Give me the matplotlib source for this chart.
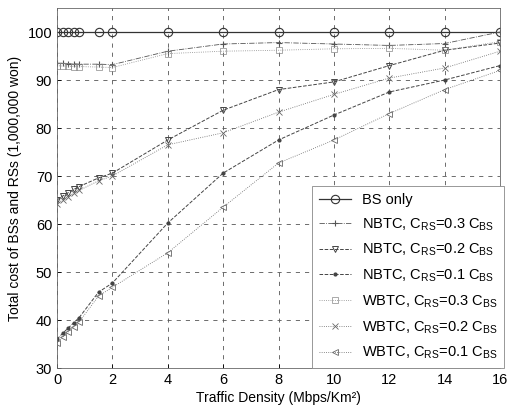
import matplotlib
matplotlib.use("Agg")
import matplotlib.pyplot as plt

plt.rcParams['font.family'] = ['Liberation Sans', 'DejaVu Sans']

x = [0, 0.2, 0.4, 0.6, 0.8, 1.5, 2, 4, 6, 8, 10, 12, 14, 16]

bs_only   = [100] * len(x)
nbtc_03   = [93.5, 93.5, 93.4, 93.4, 93.3, 93.3, 93.2, 96.0, 97.5, 97.8, 97.5, 97.2, 97.6, 100]
nbtc_02   = [65.0, 65.8, 66.5, 67.2, 67.8, 69.6, 70.6, 77.5, 83.7, 88.0, 89.6, 93.0, 96.2, 97.7]
nbtc_01   = [36.0, 37.2, 38.3, 39.4, 40.5, 45.8, 47.7, 60.2, 70.6, 77.5, 82.7, 87.5, 90.0, 93.0]
wbtc_03   = [93.0, 92.9, 92.9, 92.8, 92.8, 92.7, 92.6, 95.5, 96.0, 96.2, 96.5, 96.6, 96.2, 98.0]
wbtc_02   = [64.2, 65.0, 65.7, 66.4, 67.0, 69.0, 70.0, 76.5, 79.0, 83.3, 87.0, 90.4, 92.5, 96.0]
wbtc_01   = [35.2, 36.4, 37.5, 38.6, 39.6, 45.0, 46.8, 54.0, 63.5, 72.7, 77.5, 83.0, 88.0, 92.0]

labels = ['BS only',
          'NBTC, C$_{\\mathregular{RS}}$=0.3 C$_{\\mathregular{BS}}$',
          'NBTC, C$_{\\mathregular{RS}}$=0.2 C$_{\\mathregular{BS}}$',
          'NBTC, C$_{\\mathregular{RS}}$=0.1 C$_{\\mathregular{BS}}$',
          'WBTC, C$_{\\mathregular{RS}}$=0.3 C$_{\\mathregular{BS}}$',
          'WBTC, C$_{\\mathregular{RS}}$=0.2 C$_{\\mathregular{BS}}$',
          'WBTC, C$_{\\mathregular{RS}}$=0.1 C$_{\\mathregular{BS}}$']

fig = plt.figure(figsize=(5.16, 4.09), dpi=100)
ax = fig.add_axes([57/516, 1 - 368/409, (500 - 57)/516, (368 - 8)/409])

ax.plot(x, bs_only, '-o', color='#333333', lw=0.9, ms=6, mfc='none', mew=0.8, label=labels[0])
ax.plot(x, nbtc_03, linestyle='-.', marker='+', color='#555555', lw=0.6, ms=5, mew=0.8, label=labels[1])
ax.plot(x, nbtc_02, linestyle='--', marker='v', color='#444444', lw=0.7, ms=5, mfc='none', mew=0.7, label=labels[2])
ax.plot(x, nbtc_01, linestyle='--', marker='.', color='#444444', lw=0.7, ms=4, label=labels[3])
ax.plot(x, wbtc_03, linestyle=':', marker='s', color='#888888', lw=0.6, ms=4, mfc='none', mew=0.5, label=labels[4])
ax.plot(x, wbtc_02, linestyle=':', marker='x', color='#666666', lw=0.6, ms=4, mew=0.6, label=labels[5])
ax.plot(x, wbtc_01, linestyle=':', marker='<', color='#666666', lw=0.6, ms=4, mfc='none', mew=0.6, label=labels[6])

ax.set_xlim(0, 16)
ax.set_ylim(30, 105)
ax.set_xticks(range(0, 17, 2))
ax.set_yticks(range(30, 101, 10))
ax.tick_params(labelsize=10.5, direction='in', length=3, width=0.6)
ax.grid(True, linestyle=(0, (5, 6)), color='#555555', lw=0.6)
for s in ax.spines.values():
    s.set_linewidth(0.6)
    s.set_color('#666666')

ax.set_xlabel('Traffic Density (Mbps/Km²)', fontsize=10, labelpad=3)
ax.set_ylabel('Total cost of BSs and RSs (1,000,000 won)', fontsize=10, labelpad=4)

leg = ax.legend(loc='lower right', fontsize=10.5, frameon=True, fancybox=False,
                edgecolor='#888888', framealpha=1, borderaxespad=0.0,
                labelspacing=0.62, handlelength=2.2, borderpad=0.45,
                bbox_to_anchor=(1.01, 0.0))
leg.get_frame().set_linewidth(0.6)

fig.savefig('out.png', dpi=100)
